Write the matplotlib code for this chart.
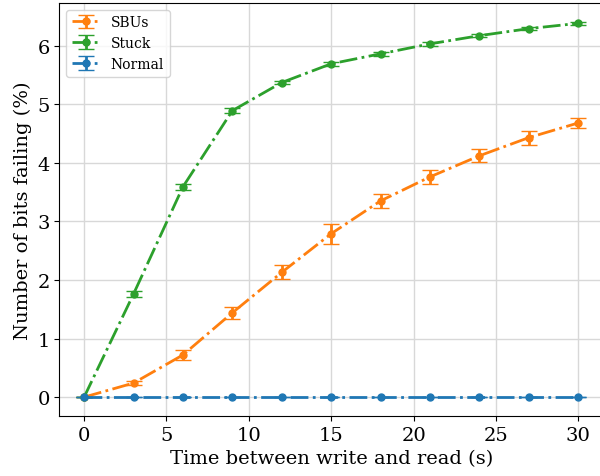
import matplotlib.pyplot as plt
import numpy as np

plt.rcParams['font.family'] = 'DejaVu Serif'

t = np.array([0, 3, 6, 9, 12, 15, 18, 21, 24, 27, 30])

sbus = np.array([0, 0.24, 0.72, 1.44, 2.13, 2.79, 3.35, 3.76, 4.12, 4.43, 4.68])
sbus_err = np.array([0, 0.03, 0.08, 0.10, 0.12, 0.17, 0.12, 0.12, 0.11, 0.12, 0.08])

stuck = np.array([0, 1.76, 3.59, 4.89, 5.37, 5.69, 5.86, 6.03, 6.17, 6.29, 6.38])
stuck_err = np.array([0, 0.05, 0.05, 0.04, 0.03, 0.03, 0.03, 0.03, 0.03, 0.03, 0.03])

normal = np.zeros(11)
normal_err = np.zeros(11)

fig, ax = plt.subplots(figsize=(6, 4.77), dpi=100)

ax.errorbar(t, sbus, yerr=sbus_err, fmt='o-.', color='tab:orange', lw=2, ms=5, capsize=6, label='SBUs')
ax.errorbar(t, stuck, yerr=stuck_err, fmt='o-.', color='tab:green', lw=2, ms=5, capsize=6, label='Stuck')
ax.errorbar(t, normal, yerr=normal_err, fmt='o-.', color='tab:blue', lw=2, ms=5, capsize=6, label='Normal')

ax.set_xlabel('Time between write and read (s)', fontsize=14)
ax.set_ylabel('Number of bits failing (%)', fontsize=14)
ax.tick_params(labelsize=14)
ax.grid(color='#d8d8d8', lw=1)
ax.set_axisbelow(True)
ax.legend(loc='upper left', fontsize=10)

fig.subplots_adjust(left=0.099, right=1.005, top=0.992, bottom=0.126)
fig.savefig('out.png')
